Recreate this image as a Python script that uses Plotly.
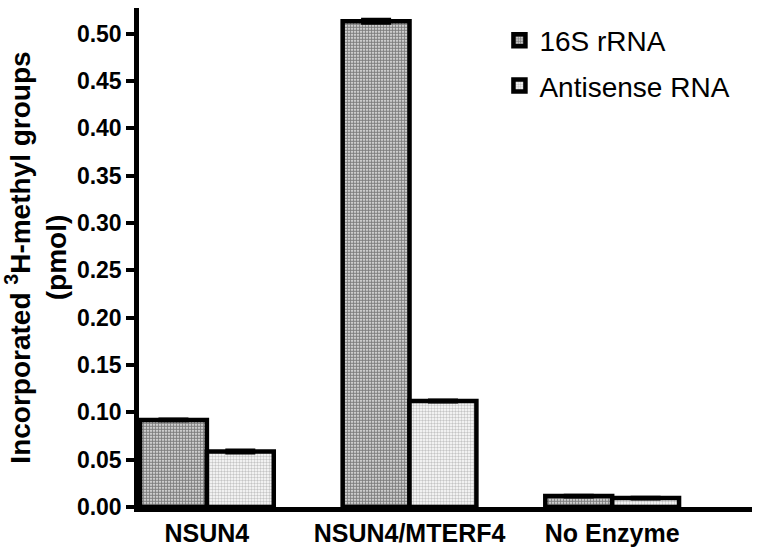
import plotly.graph_objects as go

# data
categories = ["NSUN4", "NSUN4/MTERF4", "No Enzyme"]
rrna_16s = [0.092, 0.513, 0.0115]
rrna_16s_err = [0.001, 0.002, 0.001]
antisense = [0.0586, 0.112, 0.0094]
antisense_err = [0.0015, 0.001, 0.001]
y_ticks = [0.0, 0.05, 0.10, 0.15, 0.20, 0.25, 0.30, 0.35, 0.40, 0.45, 0.50]

FONT = "Liberation Sans, Arial, sans-serif"

fig = go.Figure()

fig.add_trace(
    go.Bar(
        x=categories,
        y=rrna_16s,
        name="16S rRNA",
        legendgroup="a",
        error_y=dict(type="data", array=rrna_16s_err, color="black", thickness=3, width=15),
        marker=dict(
            color="white",
            line=dict(color="black", width=4.5),
            pattern=dict(shape=".", fgcolor="black", bgcolor="white", size=3, solidity=0.7),
        ),
    )
)

fig.add_trace(
    go.Bar(
        x=categories,
        y=antisense,
        name="Antisense RNA",
        legendgroup="b",
        error_y=dict(type="data", array=antisense_err, color="black", thickness=3, width=15),
        marker=dict(
            color="white",
            line=dict(color="black", width=4.5),
            pattern=dict(shape=".", fgcolor="#8c8c8c", bgcolor="white", size=3, solidity=0.5),
        ),
    )
)

fig.update_layout(
    width=762,
    height=555,
    margin=dict(l=139, r=10, t=8, b=44),
    plot_bgcolor="white",
    paper_bgcolor="white",
    barmode="group",
    bargap=0.34,
    bargroupgap=0,
    font=dict(family=FONT, color="black"),
    legend=dict(
        x=0.588,
        y=0.985,
        xanchor="left",
        yanchor="top",
        font=dict(family=FONT, size=28, color="black"),
        bgcolor="rgba(0,0,0,0)",
        tracegroupgap=6,
    ),
    xaxis=dict(
        range=[-0.335, 2.69],
        showline=True,
        linecolor="black",
        linewidth=4.5,
        ticks="",
        showgrid=False,
        tickfont=dict(family=FONT, size=25, weight="bold"),
    ),
    yaxis=dict(
        range=[0, 0.527],
        tickvals=y_ticks,
        ticktext=[f"{v:.2f}" for v in y_ticks],
        showline=True,
        linecolor="black",
        linewidth=4.5,
        ticks="outside",
        ticklen=8,
        tickwidth=3.5,
        tickcolor="black",
        showgrid=False,
        zeroline=False,
        automargin=False,
        tickfont=dict(family=FONT, size=23, weight="bold"),
        title=dict(
            text="<b>Incorporated <sup>3</sup>H-methyl groups<br>(pmol)</b>",
            font=dict(family=FONT, size=28),
            standoff=4,
        ),
    ),
)

# drop the default page margin so the figure sits at the window's corner
fig.write_html(
    "out.html",
    config={"displayModeBar": False},
    post_script="document.body.style.margin='0';",
)
